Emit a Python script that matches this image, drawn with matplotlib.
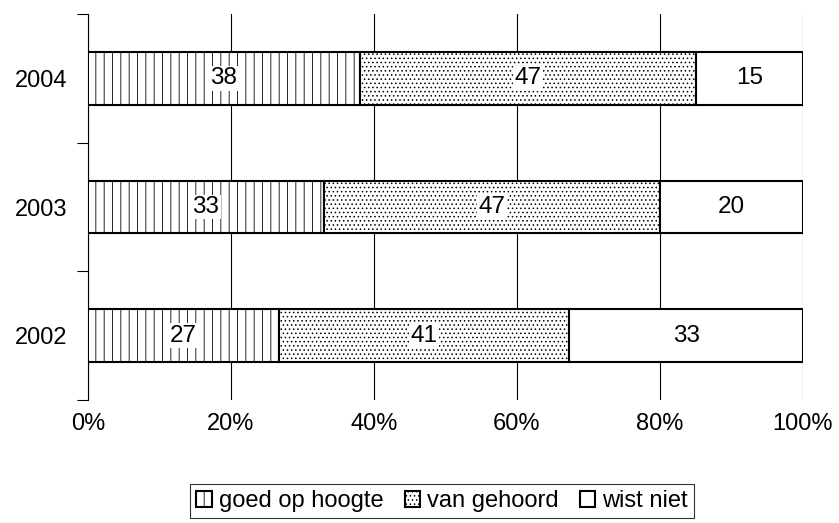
import matplotlib.pyplot as plt
import numpy as np

plt.rcParams['font.family'] = ['Liberation Sans', 'DejaVu Sans']
plt.rcParams['hatch.linewidth'] = 0.6

years = ['2002', '2003', '2004']
goed = [27, 33, 38]
gehoord = [41, 47, 47]
niet = [33, 20, 15]
series_names = ['goed op hoogte', 'van gehoord', 'wist niet']
hatches = ['||', '....', '']
xticks = [0, 20, 40, 60, 80, 100]

data = np.array([goed, gehoord, niet], dtype=float)
pct = data / data.sum(axis=0) * 100  # 100% stacked

fig = plt.figure(figsize=(8.39, 5.23), dpi=100)
ax = fig.add_axes([88 / 839, 1 - 400 / 523, 715 / 839, 386 / 523])

y = np.arange(len(years))
left = np.zeros(len(years))
handles = []
for i in range(3):
    bars = ax.barh(y, pct[i], left=left, height=0.41, color='white',
                   edgecolor='black', linewidth=1.5, hatch=hatches[i], zorder=3)
    handles.append(bars)
    for j in range(len(years)):
        ax.text(left[j] + pct[i][j] / 2, y[j], str(int(data[i][j])),
                ha='center', va='center', fontsize=17.5, zorder=5,
                bbox=dict(facecolor='white', edgecolor='none', pad=1))
    left += pct[i]

ax.set_xlim(0, 100)
ax.set_ylim(-0.5, 2.5)
ax.set_xticks(xticks)
ax.set_xticklabels([f'{t}%' for t in xticks], fontsize=17)
ax.xaxis.grid(True, color='black', linewidth=0.8, zorder=0)
ax.tick_params(axis='x', length=0, pad=9)

ax.set_yticks(y)
ax.set_yticklabels(years, fontsize=17)
ax.set_yticks([-0.5, 0.5, 1.5, 2.5], minor=True)
ax.tick_params(axis='y', which='major', length=0, pad=15)
ax.tick_params(axis='y', which='minor', length=8, width=0.8, direction='out')

for s in ['top', 'right', 'bottom']:
    ax.spines[s].set_visible(False)
ax.spines['left'].set_linewidth(0.8)

leg = fig.legend(handles, series_names, loc='lower center', ncol=3,
                 bbox_to_anchor=(0.527, 0.0), frameon=True, fancybox=False,
                 edgecolor='black', fontsize=17, handlelength=0.65,
                 handleheight=0.65, handletextpad=0.3, columnspacing=0.9,
                 borderpad=0.25, borderaxespad=0.2)
leg.get_frame().set_linewidth(0.8)

fig.savefig('out.png', dpi=100)
